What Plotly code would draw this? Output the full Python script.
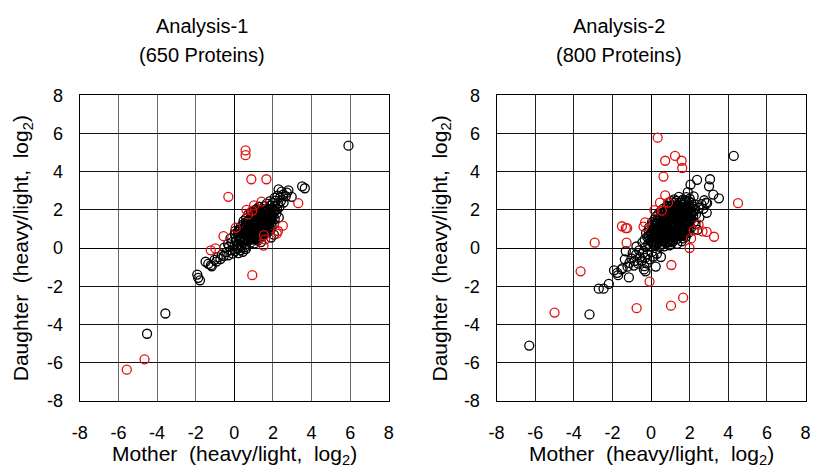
import plotly.graph_objects as go

# ---------------- data ----------------
tick_vals = [-8, -6, -4, -2, 0, 2, 4, 6, 8]
tick_text = ["-8", "-6", "-4", "-2", "0", "2", "4", "6", "8"]

titles = [["Analysis-1", "(650 Proteins)"], ["Analysis-2", "(800 Proteins)"]]

# Analysis-1 : black (regular) proteins
a1_black_x = [
    -1.49, -1.21, -1.17, -1.02, -0.86, -0.93, -0.72, -0.65, -1.35,
    -0.55, -0.41, -0.31, -0.18, -0.08, 0.04, 0.12, 0.22, 0.31, -0.52, -0.28, 0.58, 0.44,
    -0.33, -0.12, 0.01, 0.09, 0.18, 0.29, 0.38, 0.49, 0.61, 0.72, 0.83, 0.93, 1.04, 1.21, 1.38, 0.34, 0.16, 0.55,
    0.08, 0.19, 0.31, 0.42, 0.53, 0.64, 0.75, 0.86, 0.97, 1.08, 1.19, 1.31, 1.43, 1.55, 0.02,
    0.18, 0.29, 0.41, 0.52, 0.63, 0.74, 0.85, 0.96, 1.07, 1.18, 1.29, 1.41, 1.52, 1.64, 1.76, 1.88,
    0.33, 0.45, 0.56, 0.67, 0.78, 0.89, 1.01, 1.12, 1.23, 1.34, 1.46, 1.57, 1.69, 1.81, 1.93, 2.05,
    0.48, 0.61, 0.73, 0.84, 0.95, 1.06, 1.17, 1.28, 1.39, 1.51, 1.62, 1.74, 1.86, 1.98, 2.09,
    0.72, 0.86, 0.99, 1.11, 1.22, 1.34, 1.46, 1.58, 1.70, 1.82, 1.94, 2.06, 2.18,
    1.15, 1.29, 1.42, 1.56, 1.69, 1.83, 1.96, 2.08, 2.21, 2.33,
    1.68, 1.84, 1.99, 2.13, 2.27, 2.41, 2.55,
    2.09, 2.24, 2.38, 2.52, 2.66, 2.29, 2.80, 2.97, 2.72, 2.45,
    5.91, 3.51, 3.65, -3.57, -4.52, -1.92, -1.87, -1.78, 0.59, 2.05, 2.30, 1.90, -0.20, 0.05,
    # dense core
    0.25, 0.36, 0.47, 0.58, 0.69, 0.80, 0.91, 1.02, 1.13, 1.26,
    0.31, 0.43, 0.55, 0.67, 0.79, 0.91, 1.03, 1.15, 1.27, 1.39, 1.51, 1.62,
    0.46, 0.58, 0.70, 0.82, 0.94, 1.06, 1.18, 1.30, 1.42, 1.54, 1.66, 1.78,
    0.60, 0.72, 0.84, 0.96, 1.08, 1.20, 1.32, 1.44, 1.56, 1.68, 1.80, 1.92,
    0.86, 0.98, 1.10, 1.22, 1.34, 1.46, 1.58, 1.70, 1.82, 1.95,
    1.08, 1.21, 1.34, 1.47, 1.60, 1.73, 1.86, 1.99, 2.12,
]
a1_black_y = [
    -0.72, -0.90, -0.96, -0.62, -0.48, -0.71, -0.58, -0.35, -0.83,
    -0.42, -0.22, -0.38, -0.12, -0.29, -0.16, -0.04, -0.27, -0.11, 0.02, 0.08, -0.06, -0.20,
    0.22, 0.31, 0.12, 0.38, 0.19, 0.44, 0.14, 0.33, 0.21, 0.41, 0.28, 0.49, 0.24, 0.39, 0.31, 0.02, -0.02, 0.05,
    0.55, 0.68, 0.58, 0.71, 0.52, 0.66, 0.57, 0.72, 0.61, 0.69, 0.55, 0.73, 0.62, 0.71, 0.72,
    0.85, 0.97, 0.82, 0.95, 0.86, 1.01, 0.88, 0.99, 0.84, 0.96, 0.87, 1.02, 0.89, 0.98, 0.85, 0.96,
    1.12, 1.24, 1.15, 1.29, 1.11, 1.26, 1.17, 1.31, 1.13, 1.27, 1.16, 1.30, 1.19, 1.28, 1.14, 1.25,
    1.42, 1.55, 1.44, 1.58, 1.46, 1.61, 1.43, 1.56, 1.47, 1.62, 1.45, 1.57, 1.49, 1.60, 1.52,
    1.74, 1.86, 1.72, 1.88, 1.76, 1.91, 1.78, 1.89, 1.73, 1.87, 1.76, 1.90, 1.81,
    2.04, 2.16, 2.02, 2.18, 2.06, 2.21, 2.08, 2.19, 2.03, 2.14,
    2.32, 2.45, 2.36, 2.48, 2.34, 2.46, 2.38,
    2.63, 2.74, 2.66, 2.79, 2.71, 3.07, 3.02, 2.68, 2.90, 2.95,
    5.36, 3.23, 3.13, -3.43, -4.49, -1.39, -1.56, -1.69, -0.05, 0.70, 1.60, 0.55, 0.50, 0.90,
    # dense core
    0.47, 0.52, 0.43, 0.50, 0.46, 0.53, 0.44, 0.51, 0.47, 0.52,
    0.77, 0.80, 0.74, 0.81, 0.76, 0.82, 0.75, 0.79, 0.74, 0.81, 0.77, 0.80,
    1.04, 1.07, 1.02, 1.08, 1.03, 1.06, 1.01, 1.07, 1.04, 1.08, 1.02, 1.06,
    1.35, 1.38, 1.33, 1.37, 1.34, 1.39, 1.35, 1.37, 1.33, 1.38, 1.36, 1.34,
    1.67, 1.64, 1.69, 1.65, 1.68, 1.66, 1.70, 1.64, 1.68, 1.66,
    1.97, 1.99, 1.95, 1.98, 1.96, 1.99, 1.95, 1.98, 1.96,
]

# Analysis-1 : red (outlier) proteins
a1_red_x = [-5.57, -4.65, 0.58, 0.58, 0.88, 1.66, -0.31, 3.31, 1.41, 1.02, 0.63, 0.93,
            0.71, 0.07, -0.56, 2.51, 2.26, 2.20, 1.53, 1.60, 1.51, -1.22, -0.98, 0.93]
a1_red_y = [-6.37, -5.83, 5.11, 4.86, 3.60, 3.60, 2.68, 2.35, 2.43, 2.23, 2.00, 1.96,
            1.76, 1.06, 0.62, 1.17, 0.89, 0.75, 0.67, 0.45, 0.12, -0.12, -0.02, -1.42]

# Analysis-2 : black (regular) proteins
a2_black_x = [
    -1.92, -1.71, -1.53, -1.47, -1.15, -1.36, -1.31, -0.90, -0.37, -0.29, 0.24, 0.51,
    -1.12, -1.02, -0.85, -0.78, -0.66, -0.58, -0.47, -0.42, -0.31, -0.22, -0.18, -0.08,
    0.03, 0.12, -0.95, -0.62, -0.35, -1.22, 0.30, -0.76,
    -0.28, -0.15, -0.04, 0.07, 0.19, 0.31, 0.43, 0.55, 0.68, 0.82, 0.96, 1.10, -0.45, 1.35, 1.58,
    -0.33, -0.20, -0.08, 0.04, 0.16, 0.28, 0.40, 0.52, 0.64, 0.76, 0.88, 1.00, 1.12, 1.24, 1.36, 1.50, 1.66, 1.80,
    -0.26, -0.12, 0.00, 0.12, 0.24, 0.36, 0.48, 0.60, 0.72, 0.84, 0.96, 1.08, 1.20, 1.32, 1.44, 1.56, 1.68, 1.80, 1.93,
    -0.10, 0.03, 0.15, 0.27, 0.39, 0.51, 0.63, 0.75, 0.87, 0.99, 1.11, 1.23, 1.35, 1.47, 1.59, 1.71, 1.83, 1.95, 2.07,
    0.05, 0.18, 0.30, 0.42, 0.54, 0.66, 0.78, 0.90, 1.02, 1.14, 1.26, 1.38, 1.50, 1.62, 1.74, 1.86, 1.98, 2.10, 2.22,
    0.24, 0.37, 0.49, 0.61, 0.73, 0.85, 0.97, 1.09, 1.21, 1.33, 1.45, 1.57, 1.69, 1.81, 1.93, 2.05, 2.18, 2.32,
    0.50, 0.63, 0.76, 0.89, 1.01, 1.13, 1.25, 1.37, 1.49, 1.61, 1.73, 1.85, 1.97, 2.10, 2.26, 2.45,
    0.82, 0.96, 1.10, 1.24, 1.38, 1.52, 1.66, 1.80, 1.94, 2.08, 2.25, 2.60,
    1.20, 1.44, 1.62, 1.82, 2.00, 2.20, 2.75, 2.90,
    4.28, 2.38, 3.05, 2.04, 3.00, 3.22, 3.51, 2.88, 2.85, 1.90, 2.70, 2.50, 2.40, 2.30,
    -6.31, -3.19, -2.71, -2.46, -2.19, -1.75,
    # dense core
    0.00, 0.13, 0.25, 0.37, 0.49, 0.61, 0.73, 0.86, 0.99, 1.15,
    -0.10, 0.02, 0.14, 0.26, 0.38, 0.50, 0.62, 0.74, 0.86, 0.98, 1.10, 1.22, 1.34, 1.46, 1.58, 1.70,
    0.06, 0.18, 0.30, 0.42, 0.54, 0.66, 0.78, 0.90, 1.02, 1.14, 1.26, 1.38, 1.50, 1.62, 1.74, 1.86,
    0.21, 0.33, 0.45, 0.57, 0.69, 0.81, 0.93, 1.05, 1.17, 1.29, 1.41, 1.53, 1.65, 1.77, 1.89, 2.00,
    0.36, 0.48, 0.60, 0.72, 0.84, 0.96, 1.08, 1.20, 1.32, 1.44, 1.56, 1.68, 1.80, 1.92, 2.05,
    0.60, 0.72, 0.84, 0.96, 1.08, 1.20, 1.32, 1.44, 1.56, 1.68, 1.80, 1.92, 2.05, 2.18,
    0.88, 1.02, 1.16, 1.30, 1.44, 1.58, 1.72, 1.86, 2.00, 2.15,
    1.05, 1.30, 1.55, 1.75, 1.95,
]
a2_black_y = [
    -1.17, -1.42, -1.12, -1.05, -1.54, -0.59, -0.17, -0.92, -1.12, -1.22, -0.97, -0.47,
    -0.78, -0.55, -0.68, -0.35, -0.82, -0.48, -0.66, -0.28, -0.52, -0.80, -0.33, -0.60,
    -0.22, -0.45, -0.25, -0.12, -0.95, -0.98, -0.30, 0.08,
    0.05, 0.22, 0.08, 0.28, 0.11, 0.25, 0.06, 0.21, 0.09, 0.27, 0.14, 0.30, 0.30, 0.22, 0.35,
    0.45, 0.58, 0.42, 0.55, 0.47, 0.61, 0.44, 0.57, 0.41, 0.59, 0.46, 0.60, 0.43, 0.56, 0.48, 0.62, 0.50, 0.60,
    0.78, 0.92, 0.74, 0.88, 0.71, 0.86, 0.76, 0.91, 0.73, 0.87, 0.75, 0.90, 0.72, 0.85, 0.77, 0.92, 0.74, 0.88, 0.79,
    1.08, 1.20, 1.03, 1.17, 1.05, 1.21, 1.02, 1.16, 1.06, 1.22, 1.04, 1.18, 1.07, 1.20, 1.03, 1.17, 1.09, 1.21, 1.06,
    1.35, 1.49, 1.32, 1.46, 1.37, 1.52, 1.34, 1.48, 1.36, 1.51, 1.33, 1.47, 1.38, 1.52, 1.35, 1.49, 1.40, 1.50, 1.36,
    1.64, 1.78, 1.62, 1.76, 1.66, 1.80, 1.63, 1.77, 1.67, 1.81, 1.64, 1.78, 1.66, 1.79, 1.68, 1.80, 1.70, 1.76,
    1.93, 2.06, 1.92, 2.08, 1.95, 2.10, 1.94, 2.07, 1.97, 2.11, 1.93, 2.05, 1.96, 2.09, 2.00, 2.10,
    2.22, 2.36, 2.24, 2.38, 2.21, 2.35, 2.26, 2.40, 2.23, 2.37, 2.28, 2.30,
    2.55, 2.68, 2.52, 2.66, 2.58, 2.70, 2.50, 2.35,
    4.82, 3.57, 3.60, 3.32, 3.23, 2.80, 2.60, 1.84, 2.38, 2.93, 2.05, 1.60, 0.95, 1.25,
    -5.11, -3.48, -2.13, -2.13, -1.88, -1.30,
    # dense core
    0.32, 0.36, 0.30, 0.37, 0.33, 0.38, 0.31, 0.36, 0.33, 0.37,
    0.65, 0.68, 0.63, 0.69, 0.64, 0.67, 0.62, 0.68, 0.64, 0.69, 0.63, 0.67, 0.64, 0.69, 0.65, 0.68,
    0.95, 0.98, 0.93, 0.97, 0.94, 0.99, 0.95, 0.97, 0.93, 0.98, 0.95, 0.97, 0.94, 0.99, 0.95, 0.97,
    1.26, 1.29, 1.25, 1.28, 1.24, 1.30, 1.26, 1.28, 1.25, 1.29, 1.26, 1.28, 1.24, 1.29, 1.26, 1.28,
    1.56, 1.59, 1.55, 1.58, 1.56, 1.60, 1.55, 1.58, 1.56, 1.59, 1.55, 1.58, 1.56, 1.59, 1.56,
    1.85, 1.88, 1.84, 1.87, 1.85, 1.89, 1.85, 1.87, 1.84, 1.88, 1.85, 1.87, 1.85, 1.88,
    2.15, 2.17, 2.14, 2.18, 2.15, 2.17, 2.14, 2.18, 2.15, 2.17,
    2.45, 2.47, 2.44, 2.48, 2.46,
]

# Analysis-2 : red (outlier) proteins
a2_red_x = [0.34, 1.24, 0.73, 1.58, 1.61, 0.64, 0.73, 0.46, 0.88, 0.17, 0.56, 4.50,
            -0.31, -0.39, -1.51, -1.31, -1.24, -1.27, -2.92, -3.65, -5.00, -0.75,
            -0.08, 1.03, 1.66, 1.05, 1.99, 2.07, 2.21, 2.46, 2.66, 2.88, 3.26]
a2_red_y = [5.78, 4.82, 4.57, 4.57, 4.19, 3.74, 2.76, 2.38, 2.38, 1.98, 1.96, 2.35,
            1.34, 1.12, 1.14, 1.04, 1.04, 0.28, 0.28, -1.22, -3.38, -3.15,
            -1.76, -3.02, -2.60, -0.89, 0.00, 0.50, 0.92, 1.22, 0.87, 0.84, 0.59]

# ---------------- figure ----------------
W, H = 817, 474
FONT = "Liberation Sans, Arial, sans-serif"

fig = go.Figure()

panels = [
    (a1_black_x, a1_black_y, a1_red_x, a1_red_y, "x", "y"),
    (a2_black_x, a2_black_y, a2_red_x, a2_red_y, "x2", "y2"),
]
for bx, by, rx, ry, xa, ya in panels:
    fig.add_trace(go.Scatter(
        x=bx, y=by, mode="markers", xaxis=xa, yaxis=ya, showlegend=False,
        marker=dict(symbol="circle-open", size=9, color="#000000",
                    line=dict(width=1.3, color="#000000")),
    ))
    fig.add_trace(go.Scatter(
        x=rx, y=ry, mode="markers", xaxis=xa, yaxis=ya, showlegend=False,
        marker=dict(symbol="circle-open", size=9, color="#e01010",
                    line=dict(width=1.3, color="#e01010")),
    ))


def px_x(p):
    return p / W


def px_y(p):
    return 1 - p / H


y_dom = [px_y(408), px_y(89)]
x_doms = [[px_x(73), px_x(387)], [px_x(496.5), px_x(810.5)]]
vgrid = ["#666666", "#222222"]

axis_common = dict(
    range=[-8, 8], tickvals=tick_vals, ticktext=tick_text,
    showgrid=True, gridwidth=1, zeroline=True, zerolinecolor="#000000",
    zerolinewidth=1.3, showline=True, linecolor="#000000", linewidth=1.2,
    mirror=True, ticks="", tickfont=dict(family=FONT, size=18, color="#000000"),
    fixedrange=True, ticklabeloverflow="allow",
)

for i in range(2):
    sx = "" if i == 0 else "2"
    fig.update_layout(**{
        f"xaxis{sx}": dict(axis_common, domain=x_doms[i], anchor=f"y{sx}",
                           gridcolor=vgrid[i], ticklabelstandoff=16),
        f"yaxis{sx}": dict(axis_common, domain=y_dom, anchor=f"x{sx}",
                           gridcolor="#111111", ticklabelstandoff=12),
    })

annos = []
title_cx = [197, 621]
xlab_cx = [230, 654]
ylab_cx = [15, 440]
for i in range(2):
    for line_text, cy in zip(titles[i], [17, 47]):
        annos.append(dict(text=line_text, x=px_x(title_cx[i]), y=px_y(cy),
                          xref="paper", yref="paper", showarrow=False,
                          xanchor="center", yanchor="middle",
                          font=dict(family=FONT, size=20, color="#000000")))
    annos.append(dict(text="Mother  (heavy/light,  log<sub>2</sub>)",
                      x=px_x(xlab_cx[i]), y=px_y(465),
                      xref="paper", yref="paper", showarrow=False,
                      xanchor="center", yanchor="middle",
                      font=dict(family=FONT, size=21, color="#000000")))
    annos.append(dict(text="Daughter  (heavy/light,  log<sub>2</sub>)",
                      x=px_x(ylab_cx[i]), y=px_y(249),
                      xref="paper", yref="paper", showarrow=False, textangle=-90,
                      xanchor="center", yanchor="middle",
                      font=dict(family=FONT, size=21, color="#000000")))

fig.update_layout(
    width=W, height=H, margin=dict(l=0, r=0, t=0, b=0),
    paper_bgcolor="#ffffff", plot_bgcolor="#ffffff",
    annotations=annos, showlegend=False,
)

fig.write_html(
    "out.html", include_plotlyjs=True, config={"displayModeBar": False},
    post_script="document.body.style.margin='0';document.body.style.overflow='hidden';",
)
